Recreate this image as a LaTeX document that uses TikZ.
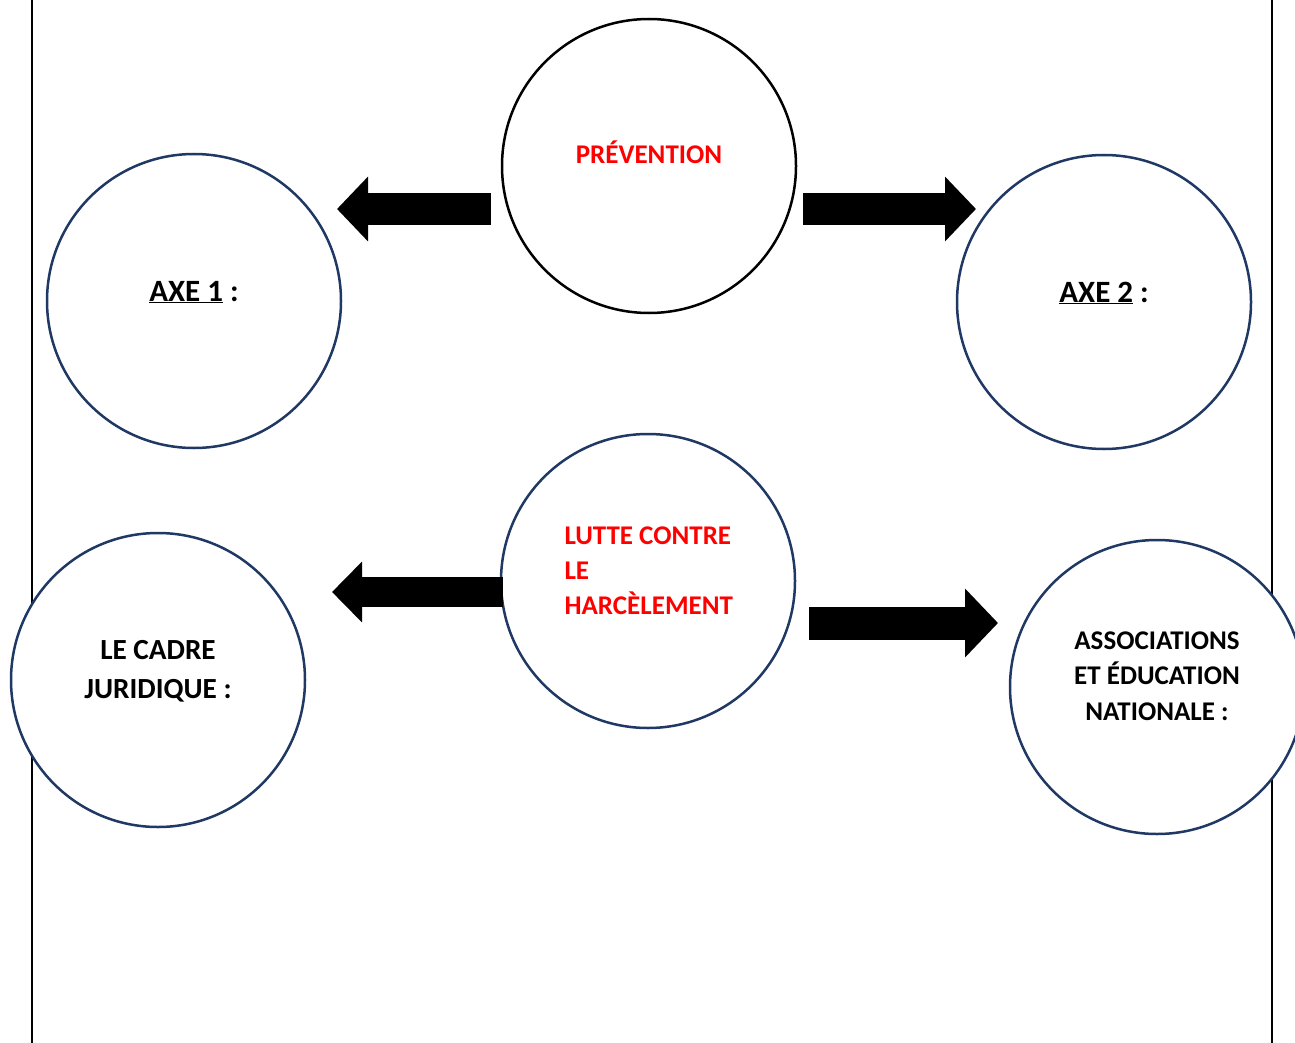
\documentclass[tikz,border=0pt]{standalone}
\usepackage{fontspec}
\setmainfont{Carlito}
\usetikzlibrary{arrows.meta}
\definecolor{bleufonce}{RGB}{31,56,100}
\begin{document}
\begin{tikzpicture}[x=1pt,y=-1pt,line join=round,font=\bfseries\fontsize{27}{35.5}\selectfont,
	bulle/.style={circle,draw=bleufonce,line width=2.5pt,fill=white,minimum size=294pt,inner sep=0pt},
	titre/.style={text=red,anchor=base},
	grand/.style={font=\bfseries\fontsize{29.2}{39}\selectfont},
	fleche/.style 2 args={line width=#1,-{Triangle[length=#1,width=#2]}}]
	\useasboundingbox (0,0) rectangle (1295,1043);
	\draw[line width=2pt] (32,0)--(32,1043) (1272,0)--(1272,1043);
	% les bulles
	\node[bulle,draw=black] (prev) at (649,166) {};
	\node[bulle] (axe1) at (194,301) {};
	\node[bulle] (axe2) at (1104,302) {};
	\node[bulle] (lutte) at (648,581) {};
	\node[bulle] (cadre) at (158,680) {};
	\node[bulle] (assoc) at (1157,687) {};
	% les textes
	\node[titre] (tprev) at (649,164) {PRÉVENTION};
	\node[titre,anchor=base west,align=left,font=\bfseries\fontsize{27}{35}\selectfont] (tlutte) at (561,614) {LUTTE CONTRE\\LE\\HARCÈLEMENT};
	\node[grand,anchor=base,font=\bfseries\fontsize{31}{39}\selectfont] (taxe1) at (194,301) {\underline{AXE 1} :};
	\node[grand,anchor=base,font=\bfseries\fontsize{31}{39}\selectfont] (taxe2) at (1104,302) {\underline{AXE 2} :};
	\node[grand,anchor=base,align=center] (tcadre) at (158,698) {LE CADRE\\JURIDIQUE :};
	\node[anchor=base,align=center] (tassoc) at (1157,720) {ASSOCIATIONS\\ET ÉDUCATION\\NATIONALE :};
	% les fleches
	\coordinate (p1) at (491,209); \coordinate (p2) at (337,209);
	\coordinate (p3) at (803,209); \coordinate (p4) at (976,209);
	\coordinate (l1) at (503,592); \coordinate (l2) at (332,592);
	\coordinate (l3) at (809,623); \coordinate (l4) at (998,623);
	\draw[fleche={31pt}{63pt}] (p1)--(p2);
	\draw[fleche={31pt}{63pt}] (p3)--(p4);
	\draw[fleche={30pt}{59pt}] (l1)--(l2);
	\draw[fleche={33pt}{67pt}] (l3)--(l4);
\end{tikzpicture}
\end{document}
